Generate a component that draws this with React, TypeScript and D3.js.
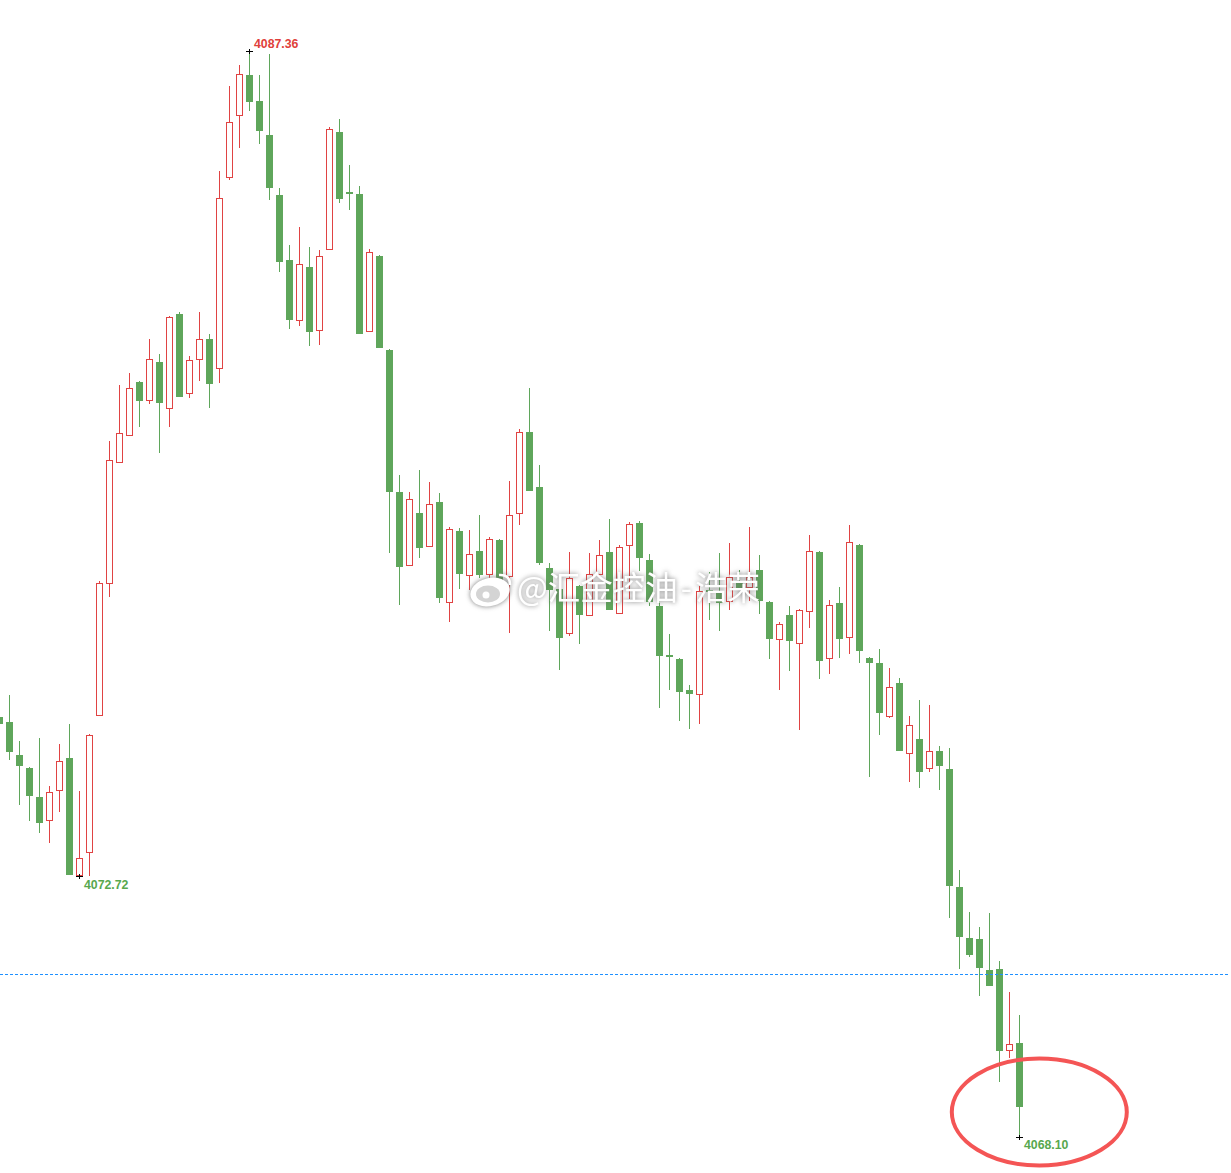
import * as d3 from "d3";
import { useEffect, useRef } from "react";

// values, one entry per candle, oldest first
const opens = [
  4075.55, 4075.46, 4074.87, 4074.64, 4074.13, 4073.70, 4074.24, 4074.82, 4072.72, 4073.14,
  4075.57, 4077.91, 4080.06, 4080.53, 4081.49, 4081.15, 4081.84, 4081.01, 4082.70, 4081.28,
  4081.88, 4082.25, 4081.72, 4085.11, 4086.21, 4086.93, 4086.47, 4085.87, 4084.81, 4083.65,
  4082.57, 4083.53, 4082.39, 4083.83, 4085.92, 4084.86, 4084.82, 4082.38, 4083.72, 4082.06,
  4079.54, 4078.23, 4079.17, 4078.56, 4079.36, 4077.57, 4078.85, 4078.05, 4078.49, 4078.07,
  4078.69, 4078.03, 4079.15, 4080.60, 4079.63, 4078.19, 4077.82, 4077.02, 4077.87, 4077.34,
  4078.07, 4078.47, 4077.37, 4078.58, 4078.99, 4078.33, 4077.52, 4076.65, 4076.58, 4076.03,
  4075.94, 4077.80, 4077.75, 4077.59, 4077.93, 4077.84, 4078.16, 4077.59, 4076.91, 4077.36,
  4076.84, 4077.41, 4078.47, 4076.58, 4077.57, 4076.95, 4078.60, 4076.59, 4076.51, 4075.55,
  4076.15, 4074.89, 4075.16, 4074.63, 4074.95, 4074.63, 4072.53, 4071.63, 4071.61, 4071.06,
  4071.08, 4069.63, 4069.77,
];
const closes = [
  4075.42, 4074.93, 4074.68, 4074.15, 4073.67, 4074.22, 4074.77, 4072.75, 4073.05, 4075.23,
  4077.92, 4080.11, 4080.59, 4081.38, 4081.15, 4081.90, 4081.12, 4082.64, 4081.22, 4081.88,
  4082.25, 4081.45, 4084.75, 4086.10, 4086.95, 4086.45, 4085.94, 4084.93, 4083.62, 4082.59,
  4083.58, 4082.38, 4083.72, 4085.98, 4084.74, 4084.82, 4082.34, 4083.79, 4082.09, 4079.54,
  4078.21, 4079.41, 4078.55, 4079.33, 4077.66, 4078.88, 4078.09, 4078.44, 4078.07, 4078.71,
  4077.98, 4079.13, 4080.60, 4079.56, 4078.28, 4077.80, 4076.95, 4078.01, 4077.36, 4078.09,
  4078.42, 4077.45, 4078.56, 4078.97, 4078.37, 4077.59, 4076.63, 4076.61, 4075.99, 4075.96,
  4077.78, 4077.76, 4077.57, 4078.03, 4077.84, 4078.03, 4077.61, 4076.93, 4077.20, 4076.90,
  4077.45, 4078.49, 4076.54, 4077.53, 4076.93, 4078.65, 4076.72, 4076.51, 4075.62, 4076.08,
  4074.95, 4075.41, 4074.57, 4074.95, 4074.68, 4072.55, 4071.65, 4071.33, 4071.10, 4070.78,
  4069.63, 4069.75, 4068.63,
];
const highs = [
  4075.90, 4075.94, 4075.12, 4074.66, 4075.18, 4074.33, 4075.07, 4075.42, 4074.24, 4075.25,
  4077.96, 4080.44, 4081.44, 4081.65, 4081.51, 4082.25, 4081.99, 4082.66, 4082.73, 4081.95,
  4082.73, 4082.34, 4085.23, 4086.74, 4087.11, 4087.36, 4086.93, 4087.31, 4084.93, 4083.92,
  4084.24, 4083.88, 4083.83, 4086.01, 4086.15, 4085.34, 4084.96, 4083.85, 4083.74, 4082.07,
  4079.84, 4079.54, 4079.93, 4079.72, 4079.52, 4078.92, 4078.90, 4078.87, 4079.13, 4078.74,
  4078.71, 4079.73, 4080.66, 4081.38, 4080.02, 4078.28, 4078.09, 4078.47, 4077.89, 4078.45,
  4078.69, 4079.06, 4078.60, 4079.01, 4079.02, 4078.44, 4077.62, 4077.02, 4076.59, 4076.12,
  4077.87, 4078.12, 4078.45, 4078.63, 4078.16, 4078.92, 4078.42, 4077.61, 4077.23, 4077.52,
  4077.46, 4078.78, 4078.49, 4077.62, 4077.85, 4078.95, 4078.62, 4076.61, 4076.75, 4076.42,
  4076.24, 4075.57, 4075.85, 4075.76, 4075.03, 4075.00, 4072.84, 4072.09, 4071.82, 4072.07,
  4071.22, 4070.67, 4070.26,
];
const lows = [
  4075.14, 4074.79, 4073.99, 4073.70, 4073.49, 4073.31, 4073.86, 4072.75, 4072.72, 4072.73,
  4075.57, 4077.68, 4080.06, 4080.53, 4080.69, 4081.10, 4080.23, 4080.69, 4081.22, 4081.21,
  4081.51, 4081.03, 4081.47, 4085.07, 4085.64, 4086.30, 4085.71, 4084.72, 4083.44, 4082.43,
  4082.48, 4082.13, 4082.15, 4083.83, 4084.66, 4084.54, 4082.34, 4082.38, 4082.09, 4078.46,
  4077.53, 4078.23, 4078.37, 4078.56, 4077.57, 4077.23, 4077.82, 4077.80, 4078.01, 4077.76,
  4077.94, 4077.04, 4078.95, 4079.56, 4078.24, 4077.07, 4076.38, 4076.99, 4076.84, 4077.34,
  4078.07, 4077.45, 4077.37, 4077.64, 4078.14, 4077.52, 4075.71, 4076.03, 4075.48, 4075.34,
  4075.42, 4077.27, 4077.07, 4077.45, 4077.82, 4077.61, 4077.37, 4076.58, 4076.03, 4076.36,
  4075.32, 4077.13, 4076.22, 4076.31, 4076.60, 4076.66, 4076.51, 4074.48, 4075.23, 4075.53,
  4074.95, 4074.40, 4074.29, 4074.57, 4074.25, 4071.98, 4071.08, 4071.29, 4070.60, 4070.78,
  4069.08, 4069.50, 4068.10,
];
const priceLine = 4070.99;
const watermarkHead = "@汇金控油";
const watermarkDash = "-";
const watermarkTail = "浩荣";

const GREEN = "#5fa65b";
const RED = "#e04343";

export default function App() {
  const ref = useRef<SVGSVGElement>(null);

  useEffect(() => {
    const width = 1231;
    const height = 1173;
    const svg = d3.select(ref.current).attr("width", width).attr("height", height);
    svg.selectAll("*").remove();

    const x = d3.scaleLinear().domain([0, opens.length - 1]).range([-0.5, 1019.5]);
    const y = d3.scaleLinear().domain([4087.36, 4068.1]).range([51, 1137]);
    const py = (v: number) => Math.round(y(v));
    const idx = d3.range(opens.length);
    const isUp = (i: number) => closes[i] > opens[i];
    const color = (i: number) => (isUp(i) ? RED : GREEN);

    // wicks
    svg.append("g")
      .attr("shape-rendering", "crispEdges")
      .selectAll("line")
      .data(idx)
      .join("line")
      .attr("x1", (i) => x(i))
      .attr("x2", (i) => x(i))
      .attr("y1", (i) => py(highs[i]))
      .attr("y2", (i) => py(lows[i]))
      .attr("stroke", color)
      .attr("stroke-width", 1);

    // bodies, up candles are hollow
    svg.append("g")
      .attr("shape-rendering", "crispEdges")
      .selectAll("rect")
      .data(idx)
      .join("rect")
      .attr("x", (i) => x(i) - (isUp(i) ? 3 : 3.5))
      .attr("width", (i) => (isUp(i) ? 6 : 7))
      .attr("y", (i) => py(Math.max(opens[i], closes[i])) + (isUp(i) ? 0.5 : 0))
      .attr("height", (i) =>
        Math.max(py(Math.min(opens[i], closes[i])) - py(Math.max(opens[i], closes[i])) - (isUp(i) ? 1 : 0), 2))
      .attr("fill", (i) => (isUp(i) ? "#fff" : GREEN))
      .attr("stroke", (i) => (isUp(i) ? RED : "none"))
      .attr("stroke-width", 1);

    // current price line
    svg.append("line")
      .attr("x1", 0)
      .attr("x2", 1228)
      .attr("y1", Math.round(y(priceLine)) + 0.5)
      .attr("y2", Math.round(y(priceLine)) + 0.5)
      .attr("stroke", "#1e90ff")
      .attr("stroke-width", 1)
      .attr("stroke-dasharray", "3 2");

    // high / low markers with their labels
    const maxIdx = d3.scan(highs, (a, b) => b - a) as number;
    const lows1 = lows.slice(0, 50);
    const minIdx1 = d3.scan(lows1, (a, b) => a - b) as number;
    const minIdx2 = d3.scan(lows, (a, b) => a - b) as number;
    const marks = [
      { i: maxIdx, v: highs[maxIdx], fill: "#e0403a", dy: -4 },
      { i: minIdx1, v: lows[minIdx1], fill: "#58a84e", dy: 12 },
      { i: minIdx2, v: lows[minIdx2], fill: "#58a84e", dy: 11 },
    ];
    const fmt = d3.format(".2f");
    const mg = svg.append("g");
    marks.forEach((m) => {
      const cx = x(m.i);
      const cy = py(m.v) + 0.5;
      mg.append("path")
        .attr("d", `M${cx - 3.5},${cy}H${cx + 3.5}M${cx},${cy - 2.5}V${cy + 2.5}`)
        .attr("stroke", "#000")
        .attr("stroke-width", 1)
        .attr("fill", "none")
        .attr("shape-rendering", "crispEdges");
      mg.append("text")
        .attr("x", cx + 4.5)
        .attr("y", cy + m.dy)
        .attr("font-family", "'Liberation Sans', Arial, sans-serif")
        .attr("font-size", 12.3)
        .attr("font-weight", "bold")
        .attr("fill", m.fill)
        .text(fmt(m.v));
    });

    // red hand drawn ellipse
    svg.append("ellipse")
      .attr("cx", 1039.3)
      .attr("cy", 1112)
      .attr("rx", 87.5)
      .attr("ry", 53.5)
      .attr("fill", "none")
      .attr("stroke", "#f45555")
      .attr("stroke-width", 4);

    // weibo watermark
    const wm = svg.append("g").style("filter", "drop-shadow(0 0 2.5px rgba(100,100,100,0.85))");
    wm.append("ellipse").attr("cx", 490).attr("cy", 592).attr("rx", 20).attr("ry", 14)
      .attr("fill", "#fff").attr("transform", "rotate(-14 490 592)");
    wm.append("ellipse").attr("cx", 488).attr("cy", 594).attr("rx", 12).attr("ry", 8.5)
      .attr("fill", "#d4d4d4");
    wm.append("circle").attr("cx", 486).attr("cy", 595).attr("r", 3.5).attr("fill", "#fff");
    wm.append("path")
      .attr("d", "M499,575 Q510,574 510,585 M498,581 Q504,580 504,586")
      .attr("fill", "none")
      .attr("stroke", "#fff")
      .attr("stroke-width", 2.5);
    const wmText = wm.append("text")
      .attr("x", 517)
      .attr("y", 600)
      .attr("font-family", "'Noto Sans CJK SC', sans-serif")
      .attr("font-size", 32.5)
      .attr("fill", "#fff");
    wmText.append("tspan").text(watermarkHead);
    wmText.append("tspan").attr("dx", 3).text(watermarkDash);
    wmText.append("tspan").attr("dx", 3).text(watermarkTail);
  }, []);

  return <svg ref={ref} style={{ position: "absolute", left: 0, top: 0, background: "#fff" }}></svg>;
}
